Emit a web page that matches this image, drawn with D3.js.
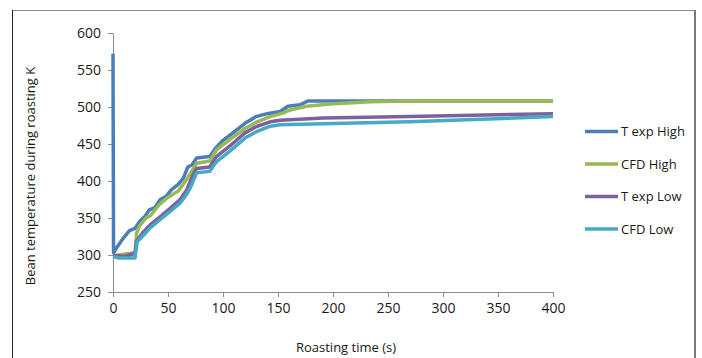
<!DOCTYPE html>
<html>
<head>
<meta charset="utf-8">
<script src="https://cdn.jsdelivr.net/npm/d3@7"></script>
<style>
  body { margin: 0; background: #fff; }
  svg { display: block; }
</style>
</head>
<body>
<div id="chart"></div>
<script>
const seriesNames = ['T exp High', 'CFD High', 'T exp Low', 'CFD Low']
const seriesColors = ['#4A7EBB', '#98B954', '#7D60A0', '#46AAC5']

const tExpHighTime = [0, 0.5, 3, 9, 15, 20, 24, 29, 33, 38, 43, 48, 53, 59, 64, 68, 72, 76, 88, 93, 100, 109, 120, 130, 140, 152, 159, 170, 177, 400]
const tExpHighTemp = [572, 303, 309, 322, 333, 336, 345, 352, 361, 364, 375, 379, 388, 395, 404, 419, 422, 431, 433, 444, 455, 465, 478, 487, 491, 494, 501, 503, 508, 508]

const cfdHighTime = [0, 20, 21.5, 24, 30, 34, 42, 50, 59, 67, 72, 76, 88, 94, 106, 120, 131, 143, 155, 161, 176, 197, 234, 270, 400]
const cfdHighTemp = [299, 303, 330, 339, 350, 353, 368, 378, 386, 402, 414, 424, 427, 442, 456, 471, 480, 487, 492, 496, 501, 504, 507, 508, 508]

const tExpLowTime = [0, 5, 10, 20, 21.5, 27, 34, 43, 52, 61, 67, 72, 76, 88, 94, 106, 120, 131, 143, 152, 191, 270, 400]
const tExpLowTemp = [299, 299, 298, 302, 319, 330, 341, 352, 363, 375, 388, 406, 417, 419, 433, 447, 465, 474, 480, 482, 485, 487, 491]

const cfdLowTime = [0, 5, 20, 22, 28, 34, 43, 52, 61, 67, 71, 76, 88, 94, 106, 120, 131, 143, 152, 270, 400]
const cfdLowTemp = [298, 296, 296, 318, 327, 337, 348, 359, 370, 382, 393, 411, 413, 426, 440, 458, 467, 474, 476, 480, 487]

const xTicks = [0, 50, 100, 150, 200, 250, 300, 350, 400]
const yTicks = [250, 300, 350, 400, 450, 500, 550, 600]

const times = [tExpHighTime, cfdHighTime, tExpLowTime, cfdLowTime]
const temps = [tExpHighTemp, cfdHighTemp, tExpLowTemp, cfdLowTemp]

const width = 702
const height = 358
const font = '"Open Sans", sans-serif'

const svg = d3.select('#chart')
  .append('svg')
  .attr('width', width)
  .attr('height', height)

// outer frame (only top, left and right are visible)
svg.append('line').attr('x1', 12.5).attr('x2', 695).attr('y1', 10.5).attr('y2', 10.5)
  .attr('stroke', '#8a8a8a')
svg.append('line').attr('x1', 12.5).attr('x2', 12.5).attr('y1', 10).attr('y2', height)
  .attr('stroke', '#222')
svg.append('line').attr('x1', 695).attr('x2', 695).attr('y1', 10).attr('y2', height)
  .attr('stroke', '#7a7a7a').attr('stroke-width', 2)

const x = d3.scaleLinear().domain([0, 400]).range([113, 553])
const y = d3.scaleLinear().domain([250, 600]).range([292, 33])

const xAxis = svg.append('g')
  .attr('transform', `translate(0,${y(250)})`)
  .call(d3.axisBottom(x).tickValues(xTicks).tickSize(5).tickPadding(6).tickFormat(d3.format('d')))
const yAxis = svg.append('g')
  .attr('transform', `translate(${x(0)},0)`)
  .call(d3.axisLeft(y).tickValues(yTicks).tickSize(5).tickPadding(7).tickFormat(d3.format('d')))

;[xAxis, yAxis].forEach(ax => {
  ax.select('.domain').attr('stroke', '#8c8c8c')
  ax.selectAll('.tick line').attr('stroke', '#8c8c8c')
  ax.selectAll('.tick text')
    .attr('fill', '#1a1a1a')
    .attr('font-family', font)
    .attr('font-size', 14)
})

const line = d3.line()
  .x(d => x(d[0]))
  .y(d => y(d[1]))

times.forEach((ts, i) => {
  const pts = ts.map((t, j) => [t, temps[i][j]])
  svg.append('path')
    .datum(pts)
    .attr('d', line)
    .attr('fill', 'none')
    .attr('stroke', seriesColors[i])
    .attr('stroke-width', 3.5)
    .attr('stroke-linejoin', 'round')
})

svg.append('text')
  .attr('x', 346)
  .attr('y', 352)
  .attr('text-anchor', 'middle')
  .attr('font-family', font)
  .attr('font-size', 13)
  .attr('fill', '#1a1a1a')
  .text('Roasting time (s)')

svg.append('text')
  .attr('transform', `translate(35,176) rotate(-90)`)
  .attr('text-anchor', 'middle')
  .attr('font-family', font)
  .attr('font-size', 13)
  .attr('fill', '#1a1a1a')
  .text('Bean temperature during roasting  K')

const legend = svg.selectAll('.legend')
  .data(seriesNames)
  .enter().append('g')
  .attr('class', 'legend')
  .attr('transform', (_, i) => `translate(585,${131.5 + i * 32.5})`)

legend.append('line')
  .attr('x1', 0).attr('x2', 33)
  .attr('stroke', (_, i) => seriesColors[i])
  .attr('stroke-width', 3.5)

legend.append('text')
  .attr('x', 36)
  .attr('dy', '0.35em')
  .attr('font-family', font)
  .attr('font-size', 13)
  .attr('fill', '#1a1a1a')
  .text(d => d)
</script>
</body>
</html>
